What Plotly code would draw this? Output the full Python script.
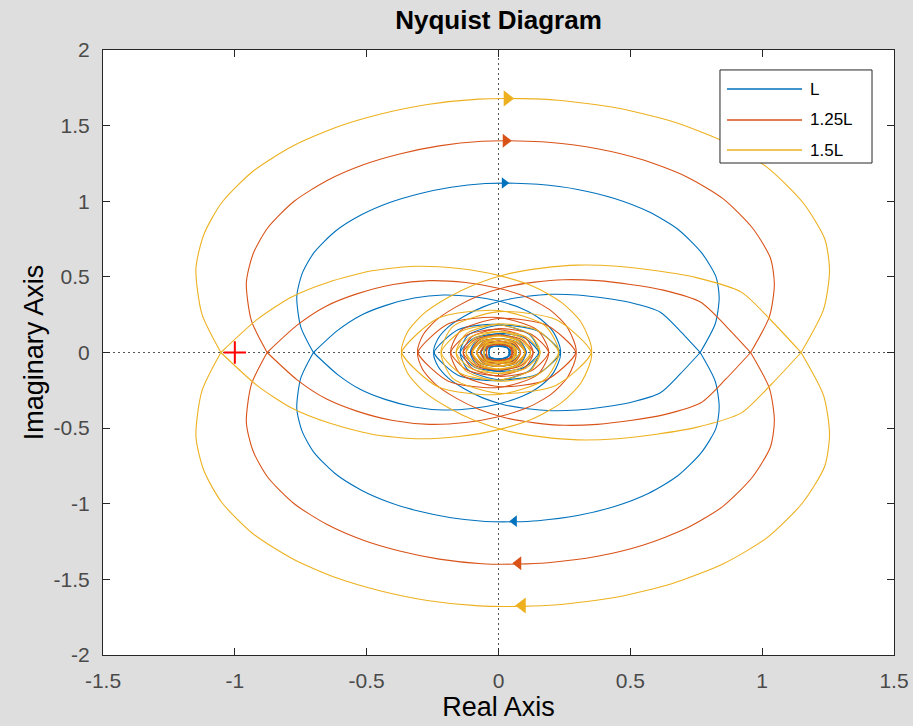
import plotly.graph_objects as go

# ---- data (curve L, positive-frequency branch, in order of increasing frequency) ----
# low-frequency inner spiral (ends where the big arcs begin)
low_x = [0.055, 0.04, 0.0, -0.045, -0.066, -0.049, 0.0, 0.054, 0.081, 0.061, 0.0, -0.07, -0.107, -0.082, 0.0, 0.098, 0.152, 0.118, 0.0, -0.152]
low_y = [0.0, -0.04, -0.06, -0.045, 0.0, 0.049, 0.073, 0.054, 0.0, -0.061, -0.092, -0.07, 0.0, 0.082, 0.126, 0.098, 0.0, -0.118, -0.185, -0.152]
# arc rising over the origin towards the right real-axis crossing
arcB_x = [-0.245, -0.23, -0.19, -0.13, -0.06, 0.02, 0.11, 0.20, 0.30, 0.40, 0.50, 0.614, 0.69, 0.765]
arcB_y = [0.0, 0.09, 0.17, 0.24, 0.30, 0.345, 0.372, 0.385, 0.38, 0.36, 0.33, 0.266, 0.14, 0.0]
# large outer arc (lower half), from the right crossing to the left crossing
outer_x = [0.765, 0.822, 0.837, 0.825, 0.77, 0.68, 0.57, 0.44, 0.30, 0.15, 0.06, -0.05, -0.18, -0.30, -0.41, -0.52, -0.62, -0.70, -0.745, -0.765, -0.75, -0.702]
outer_y = [0.0, -0.19, -0.36, -0.50, -0.66, -0.815, -0.93, -1.018, -1.078, -1.112, -1.119, -1.117, -1.093, -1.05, -0.993, -0.91, -0.80, -0.66, -0.52, -0.37, -0.17, 0.0]
# arc from the left crossing back over the origin
arcA_x = [-0.702, -0.61, -0.523, -0.43, -0.32, -0.21, -0.10, 0.0, 0.09, 0.16, 0.21, 0.235]
arcA_y = [0.0, 0.146, 0.245, 0.31, 0.36, 0.38, 0.37, 0.34, 0.29, 0.22, 0.13, 0.0]
# high-frequency inner spiral
high_x = [0.145, 0.0, -0.115, -0.145, -0.094, 0.0, 0.08, 0.105, 0.069, 0.0, -0.062, -0.082, -0.055, 0.0, 0.05, 0.067, 0.045, 0.0, -0.04, -0.055, -0.02, 0.045, 0.025, -0.035, -0.03, 0.035, 0.04, 0.0]
high_y = [-0.145, -0.18, -0.115, 0.0, 0.094, 0.122, 0.08, 0.0, -0.069, -0.092, -0.062, 0.0, 0.055, 0.074, 0.05, 0.0, -0.045, -0.06, -0.04, 0.0, 0.05, 0.015, -0.045, -0.025, 0.035, 0.03, -0.025, -0.045]

# arrow positions on curve L
arrow_top = (0.022, 1.12)
arrow_bot = (0.06, -1.115)

gains = [1.0, 1.25, 1.5]
names = ["L", "1.25L", "1.5L"]
colors = ["#0072BD", "#D95319", "#EDB120"]
arrow_sizes = [10, 12, 14]

x_ticks = [-1.5, -1, -0.5, 0, 0.5, 1, 1.5]
x_labels = ["-1.5", "-1", "-0.5", "0", "0.5", "1", "1.5"]
y_ticks = [-2, -1.5, -1, -0.5, 0, 0.5, 1, 1.5, 2]
y_labels = ["-2", "-1.5", "-1", "-0.5", "0", "0.5", "1", "1.5", "2"]

critical = (-1, 0)

FONT = "Liberation Sans, Arial, sans-serif"

# ---- build figure ----
# the curve has sharp corners at the two outer real-axis crossings, so it is drawn in three pieces
pieces = [
    (low_x + arcB_x, low_y + arcB_y),
    (outer_x, outer_y),
    (arcA_x + high_x, arcA_y + high_y),
]

fig = go.Figure()
for g, nm, c, sz in zip(gains, names, colors, arrow_sizes):
    line = dict(color=c, width=1.1, shape="spline", smoothing=0.7)
    for px, py in pieces:
        xs = [g * v for v in px]
        ys = [g * v for v in py]
        # positive frequencies
        fig.add_trace(go.Scatter(x=xs, y=ys, mode="lines", name=nm, line=line, showlegend=False))
        # negative frequencies (mirror image)
        fig.add_trace(go.Scatter(x=xs, y=[-v for v in ys], mode="lines", name=nm, showlegend=False, line=line))
    fig.add_trace(go.Scatter(x=[g * arrow_top[0]], y=[g * arrow_top[1]], mode="markers",
                             showlegend=False, marker=dict(symbol="triangle-right", size=sz, color=c, line=dict(width=0))))
    fig.add_trace(go.Scatter(x=[g * arrow_bot[0]], y=[g * arrow_bot[1]], mode="markers",
                             showlegend=False, marker=dict(symbol="triangle-left", size=sz, color=c, line=dict(width=0))))

fig.add_trace(go.Scatter(x=[critical[0]], y=[critical[1]], mode="markers", showlegend=False,
                         marker=dict(symbol="cross-thin", size=16, color="red",
                                     line=dict(color="red", width=2))))

fig.add_hline(y=0, line=dict(color="#555555", width=1, dash="2px,3px"), layer="below")
fig.add_vline(x=0, line=dict(color="#555555", width=1, dash="2px,3px"), layer="below")

# ---- legend box (MATLAB style, long line samples) ----
lg_x0, lg_x1, lg_y0, lg_y1 = 0.780, 0.9722, 0.8132, 0.967
lg_line_x0, lg_line_x1, lg_text_x = 0.7889, 0.8837, 0.8913
lg_rows = [0.9355, 0.8843, 0.8347]
fig.add_shape(type="rect", xref="paper", yref="paper", x0=lg_x0, x1=lg_x1, y0=lg_y0, y1=lg_y1,
              line=dict(color="#262626", width=1), fillcolor="white", layer="above")
for nm, c, ry in zip(names, colors, lg_rows):
    fig.add_shape(type="line", xref="paper", yref="paper", x0=lg_line_x0, x1=lg_line_x1, y0=ry, y1=ry,
                  line=dict(color=c, width=1.3), layer="above")
    fig.add_annotation(xref="paper", yref="paper", x=lg_text_x, y=ry, text=nm, showarrow=False,
                       xanchor="left", yanchor="middle", font=dict(family=FONT, size=17, color="black"))

axis_common = dict(showgrid=False, zeroline=False, showline=True, linecolor="#262626", linewidth=1,
                   mirror="ticks", ticks="inside", ticklen=7, tickcolor="#262626", automargin=False,
                   tickfont=dict(family=FONT, size=21, color="#4a4a4a"))

fig.update_layout(
    width=913, height=726,
    paper_bgcolor="#dedede", plot_bgcolor="white",
    margin=dict(l=103, r=19, t=50, b=71),
    title=dict(text="<b>Nyquist Diagram</b>", x=0.5, xref="paper", y=0.972, yanchor="middle",
               font=dict(family=FONT, size=26, color="black")),
    xaxis=dict(range=[-1.5, 1.5], tickvals=x_ticks, ticktext=x_labels, ticklabelstandoff=7,
               title=dict(text="Real Axis", standoff=5,
                          font=dict(family=FONT, size=27, color="black")),
               **axis_common),
    yaxis=dict(range=[-2, 2], tickvals=y_ticks, ticktext=y_labels, ticklabelstandoff=8,
               title=dict(text="Imaginary Axis", standoff=2,
                          font=dict(family=FONT, size=27, color="black")),
               **axis_common),
    showlegend=False,
)

fig.write_html("out.html", config={"displayModeBar": False},
               post_script="document.body.style.margin='0';")
